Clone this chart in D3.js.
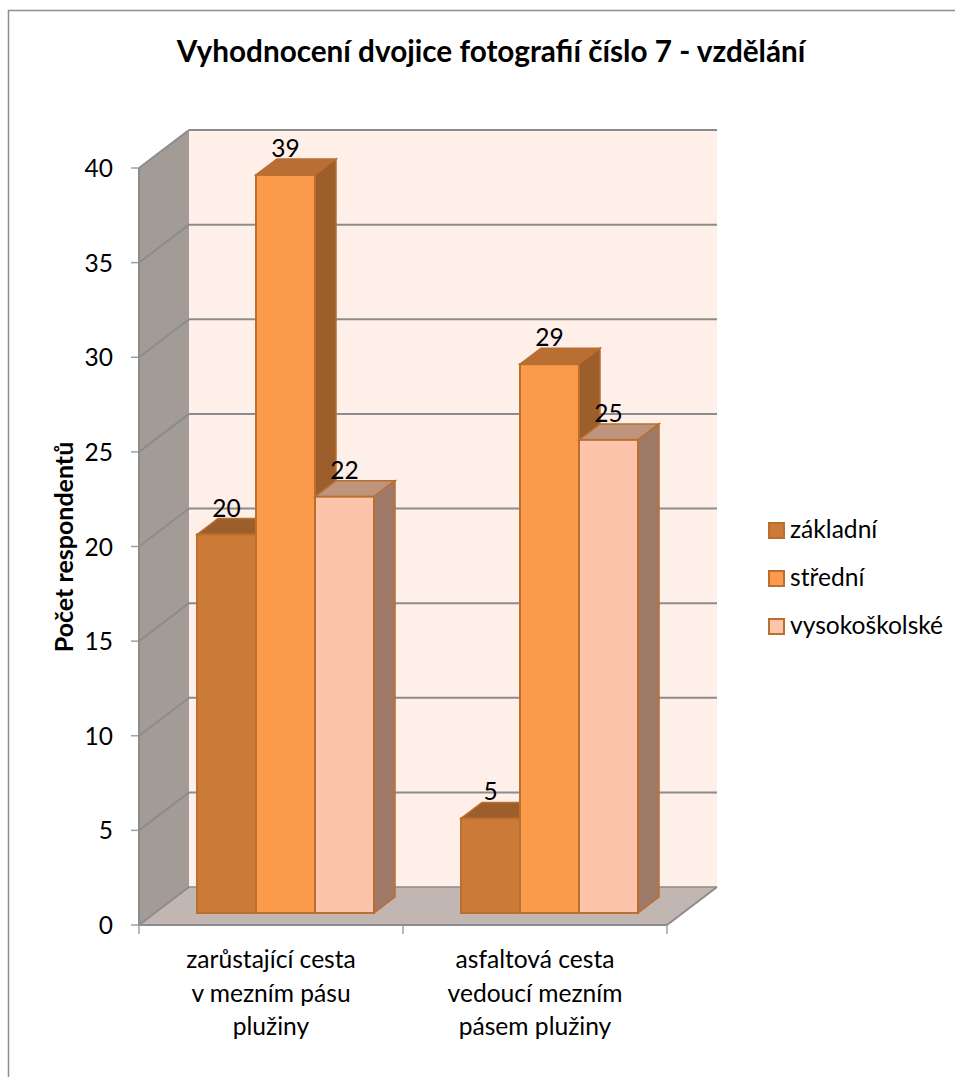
<!DOCTYPE html>
<html lang="cs">
<head>
  <meta charset="UTF-8" />
  <title>Vyhodnocení dvojice fotografií číslo 7</title>
  <style>
  html, body { margin: 0; padding: 0; background: #fff; }
  svg { display: block; }
  text { font-family: Lato, "Open Sans", sans-serif; fill: #000; }
  </style>
</head>
<body>
  <script src="https://cdn.jsdelivr.net/npm/d3@7/dist/d3.min.js"></script>
  <script>
  var titleText = "Vyhodnocení dvojice fotografií číslo 7 - vzdělání";
  var yTitle = "Počet respondentů";
  var categories = ["a", "b"];
  var categoryLines = [
    ["zarůstající cesta", "v mezním pásu", "plužiny"],
    ["asfaltová cesta", "vedoucí mezním", "pásem plužiny"]
  ];
  var seriesNames = ["základní", "střední", "vysokoškolské"];
  var zakladni = [20, 5];
  var stredni = [39, 29];
  var vysokoskolske = [22, 25];
  var seriesValues = [zakladni, stredni, vysokoskolske];
  var yTicks = [0, 5, 10, 15, 20, 25, 30, 35, 40];

  var front = { color: ["#cb7b37", "#fa9a4a", "#fcc4aa"] },
      top_ = { color: ["#9c5f2b", "#b96f33", "#bf947d"] },
      side = { color: ["#9c5f2b", "#9c5f2b", "#9f7a68"] },
      edge = "#b96f2f", grid = "#8c8c8c";

  var w = 955, h = 1077;
  // depth of the 3d box, in pixels
  var depthX = 50, depthY = 38;
  // bars stand a bit behind the front edge of the floor
  var barX = 16, barY = 12, barDX = 21, barDY = 16;

  var svg = d3.select("body").append("svg")
    .attr("width", w)
    .attr("height", h);

  var xScale = d3.scaleBand().domain(categories).range([139, 667]);
  var inner = d3.scaleBand().domain(d3.range(3))
    .range([42, xScale.bandwidth() - 45]);
  var yScale = d3.scaleLinear().domain([0, 40]).range([925, 168]);

  var y0 = yScale(0), y40 = yScale(40);
  var x0 = xScale.range()[0], x1 = xScale.range()[1];

  function poly(points, fill) {
    return svg.append("polygon")
      .attr("points", points.map(function(p) { return p.join(","); }).join(" "))
      .attr("fill", fill);
  }
  function line(a, b, color, width) {
    return svg.append("line")
      .attr("x1", a[0]).attr("y1", a[1])
      .attr("x2", b[0]).attr("y2", b[1])
      .attr("stroke", color).attr("stroke-width", width);
  }

  // chart frame
  svg.append("path")
    .attr("d", "M8.5," + h + "V10.5H" + w)
    .attr("fill", "none").attr("stroke", "#8e8e8e").attr("stroke-width", 1.5);

  // walls and floor
  poly([[x0 + depthX, y40 - depthY], [x1 + depthX, y40 - depthY], [x1 + depthX, y0 - depthY], [x0 + depthX, y0 - depthY]], "#feefe8");
  poly([[x0, y40], [x0 + depthX, y40 - depthY], [x0 + depthX, y0 - depthY], [x0, y0]], "#a39b95");
  poly([[x0, y0], [x0 + depthX, y0 - depthY], [x1 + depthX, y0 - depthY], [x1, y0]], "#c1b6b1");

  // gridlines, running along the side wall and the back wall
  yTicks.forEach(function(t) {
    var y = yScale(t);
    line([x0, y], [x0 + depthX, y - depthY], grid, 2);
    line([x0 + depthX, y - depthY], [x1 + depthX, y - depthY], grid, t === 0 ? 1.5 : 2);
    line([x0 - 8, y], [x0, y], "#a0a0a0", 1.5);
    svg.append("text")
      .attr("x", 113).attr("y", y + 9)
      .attr("text-anchor", "end")
      .attr("font-size", 24.5)
      .text(t);
  });
  line([x1, y0], [x1 + depthX, y0 - depthY], grid, 2);

  // axis lines
  line([x0, y40], [x0, y0], grid, 2);
  line([x0, y0], [x1, y0], grid, 2);
  xScale.range().concat(xScale(categories[1])).forEach(function(x) {
    line([x, y0], [x, y0 + 9], "#a0a0a0", 1.5);
  });

  // bars
  categories.forEach(function(c, ci) {
    seriesValues.forEach(function(vals, si) {
      var left = xScale(c) + inner(si) + barX,
          right = left + inner.bandwidth(),
          bottom = y0 - barY,
          top = yScale(vals[ci]) - barY;
      poly([[left, top], [left + barDX, top - barDY], [right + barDX, top - barDY], [right, top]], top_.color[si])
        .attr("stroke", edge).attr("stroke-width", 1.5);
      poly([[right, top], [right + barDX, top - barDY], [right + barDX, bottom - barDY], [right, bottom]], side.color[si])
        .attr("stroke", edge).attr("stroke-width", 1.5);
      svg.append("rect")
        .attr("x", left).attr("y", top)
        .attr("width", inner.bandwidth()).attr("height", bottom - top)
        .attr("fill", front.color[si])
        .attr("stroke", edge).attr("stroke-width", 2);
    });
  });

  // value labels go over all the bars
  categories.forEach(function(c, ci) {
    seriesValues.forEach(function(vals, si) {
      svg.append("text")
        .attr("x", xScale(c) + inner(si) + barX + inner.bandwidth() / 2)
        .attr("y", yScale(vals[ci]) - barY - 18)
        .attr("text-anchor", "middle")
        .attr("font-size", 24.5)
        .text(vals[ci]);
    });
  });

  // category labels
  categories.forEach(function(c, ci) {
    categoryLines[ci].forEach(function(l, li) {
      svg.append("text")
        .attr("x", xScale(c) + xScale.bandwidth() / 2)
        .attr("y", 968 + li * 33.5)
        .attr("text-anchor", "middle")
        .attr("font-size", 24.6)
        .text(l);
    });
  });

  // titles
  svg.append("text")
    .attr("x", 491).attr("y", 62)
    .attr("text-anchor", "middle")
    .attr("font-size", 29.7).attr("font-weight", "bold")
    .text(titleText);
  svg.append("text")
    .attr("transform", "translate(73,547) rotate(-90)")
    .attr("text-anchor", "middle")
    .attr("font-size", 25).attr("font-weight", "bold")
    .text(yTitle);

  // legend
  var legendY = d3.scalePoint().domain(seriesNames).range([530, 626]);
  seriesNames.forEach(function(name, i) {
    svg.append("rect")
      .attr("x", 769).attr("y", legendY(name) - 7)
      .attr("width", 15).attr("height", 15)
      .attr("fill", front.color[i])
      .attr("stroke", edge).attr("stroke-width", 2);
    svg.append("text")
      .attr("x", 790).attr("y", legendY(name) + 8)
      .attr("font-size", 24.6)
      .text(name);
  });
  </script>
</body>
</html>
